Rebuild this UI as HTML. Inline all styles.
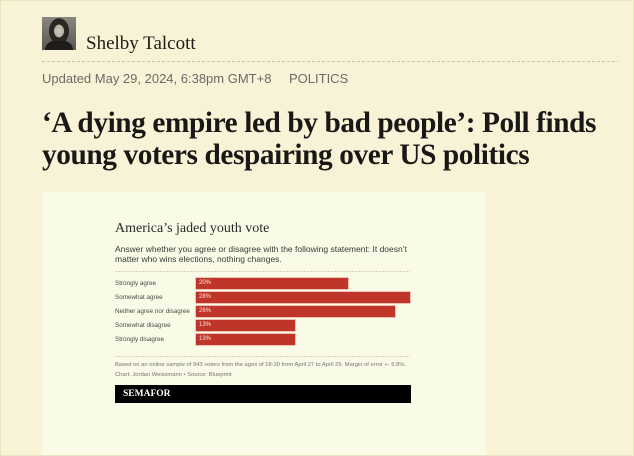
<!DOCTYPE html>
<html>
<head>
<meta charset="utf-8">
<style>
  html,body{margin:0;padding:0;}
  body{width:634px;height:456px;position:relative;overflow:hidden;background:#f8f3d6;font-family:"Liberation Sans",Arial,sans-serif;}
  .frame{position:absolute;left:0;top:0;width:632px;height:454px;border:1px solid #ebe4c0;}
  .abs{position:absolute;white-space:nowrap;}
  .avatar{left:42px;top:17px;width:34px;height:33px;background:radial-gradient(ellipse 7px 9px at 17px 14px,#cfc9bf 0,#b5aea2 70%,transparent 72%),radial-gradient(ellipse 11px 14px at 17px 14px,#2a2624 0,#2a2624 90%,transparent 92%),linear-gradient(#8a8680,#5a5752);}
  .avatar:after{content:"";position:absolute;left:3px;top:24px;width:28px;height:9px;background:#1e1c1b;border-radius:12px 12px 0 0;}
  .name{left:86px;top:33px;font-family:"Liberation Serif",serif;font-size:19px;color:#1d1b18;}
  .dash{left:42px;top:61px;width:576px;height:1px;background:repeating-linear-gradient(90deg,#c9c3a9 0 3px,transparent 3px 5px);}
  .meta{left:42px;top:71px;font-size:13px;color:#6b6a66;}
  .cat{left:289px;top:71px;font-size:13px;color:#6b6a66;}
  .h1{left:42px;top:107px;font-family:"Liberation Serif",serif;font-weight:bold;font-size:29.3px;line-height:32px;color:#1a1816;letter-spacing:-0.4px;}
  .card{left:42px;top:192px;width:444px;height:263px;background:#fafbe6;}
  .ctitle{left:115px;top:221px;font-family:"Liberation Serif",serif;font-size:14px;color:#2b2a28;}
  .sub{left:115px;top:244px;font-size:8.5px;line-height:10px;color:#3a3936;}
  .dl{height:1px;background:repeating-linear-gradient(90deg,#d6d2bd 0 2px,transparent 2px 3px);}
  .lbl{left:115px;font-size:6.3px;color:#4a4945;}
  .bar{left:196px;height:11px;background:#c0352a;box-shadow:0 0 0 0.6px #e39a8f;}
  .bar span{position:absolute;left:3px;top:2px;font-size:6px;color:#fbe6e0;}
  .foot{left:115px;font-size:5.8px;color:#77756e;}
  .sem{left:115px;top:385px;width:296px;height:18px;background:#000;}
  .sem span{position:absolute;left:8px;top:4px;font-family:"Liberation Serif",serif;font-weight:bold;font-size:9.5px;color:#fff;}
</style>
</head>
<body>
<div class="frame"></div>
<div class="abs avatar"></div>
<div class="abs name">Shelby Talcott</div>
<div class="abs dash"></div>
<div class="abs meta">Updated May 29, 2024, 6:38pm GMT+8</div>
<div class="abs cat">POLITICS</div>
<div class="abs h1">‘A dying empire led by bad people’: Poll finds<br>young voters despairing over US politics</div>

<div class="abs card"></div>
<div class="abs ctitle">America’s jaded youth vote</div>
<div class="abs sub">Answer whether you agree or disagree with the following statement: It doesn’t<br>matter who wins elections, nothing changes.</div>
<div class="abs dl" style="left:115px;top:271px;width:295px;"></div>

<div class="abs lbl" style="top:280px;">Strongly agree</div>
<div class="abs bar" style="top:278px;width:152px;"><span>20%</span></div>
<div class="abs lbl" style="top:294px;">Somewhat agree</div>
<div class="abs bar" style="top:292px;width:214px;"><span>28%</span></div>
<div class="abs lbl" style="top:308px;">Neither agree nor disagree</div>
<div class="abs bar" style="top:306px;width:199px;"><span>26%</span></div>
<div class="abs lbl" style="top:322px;">Somewhat disagree</div>
<div class="abs bar" style="top:320px;width:99px;"><span>13%</span></div>
<div class="abs lbl" style="top:336px;">Strongly disagree</div>
<div class="abs bar" style="top:334px;width:99px;"><span>13%</span></div>

<div class="abs dl" style="left:115px;top:356px;width:295px;"></div>
<div class="abs foot" style="top:362px;">Based on an online sample of 943 voters from the ages of 18-30 from April 27 to April 29. Margin of error +- 5.8%.</div>
<div class="abs foot" style="top:372px;">Chart: Jordan Weissmann • Source: Blueprint</div>
<div class="abs sem"><span>SEMAFOR</span></div>
</body>
</html>
